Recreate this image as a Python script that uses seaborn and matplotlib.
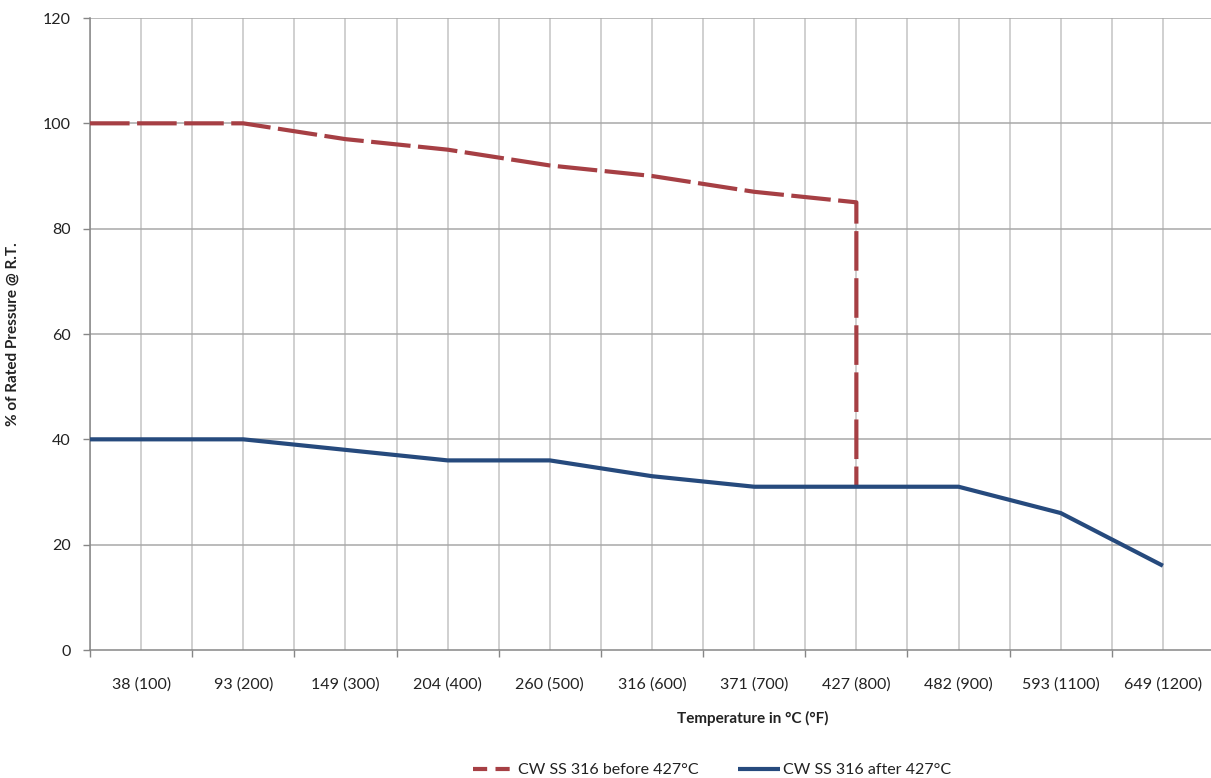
import matplotlib
matplotlib.use("Agg")
import matplotlib.pyplot as plt
import seaborn as sns
import pandas as pd
import numpy as np

categories = ["38 (100)", "93 (200)", "149 (300)", "204 (400)", "260 (500)", "316 (600)",
              "371 (700)", "427 (800)", "482 (900)", "593 (1100)", "649 (1200)"]

before_x = [-0.5, 1, 2, 3, 4, 5, 6, 7, 7]
before_y = [100, 100, 97, 95, 92, 90, 87, 85, 31]
after_x = [-0.5, 1, 2, 3, 4, 5, 6, 7, 8, 9, 10]
after_y = [40, 40, 38, 36, 36, 33, 31, 31, 31, 26, 16]

yticks = [0, 20, 40, 60, 80, 100, 120]

sns.set_theme(style="white")
plt.rcParams['font.family'] = ['Lato', 'DejaVu Sans']

fig = plt.figure(figsize=(12.11, 7.78), dpi=100)
ax = fig.add_axes([90/1211, 128/778, 1124/1211, 632/778])

red = "#A63F44"
blue = "#264A7D"

df_b = pd.DataFrame({"x": before_x, "y": before_y})
df_a = pd.DataFrame({"x": after_x, "y": after_y})

sns.lineplot(data=df_b, x="x", y="y", ax=ax, sort=False, estimator=None, color=red,
             linewidth=3.0, label="CW SS 316 before 427°C", zorder=3)
sns.lineplot(data=df_a, x="x", y="y", ax=ax, sort=False, estimator=None, color=blue,
             linewidth=3.0, label="CW SS 316 after 427°C", zorder=3)
lb = ax.get_lines()[0]
lb.set_dashes((9.5, 1.8))
lb.set_dash_capstyle("butt")
ax.get_lines()[1].set_solid_capstyle("butt")

n = len(categories)
ax.set_xlim(-0.5, n - 0.5)
ax.set_ylim(0, 120)
ax.set_xticks(range(n))
ax.set_xticklabels(categories)
ax.set_xticks(np.arange(-0.5, n, 1.0), minor=True)
ax.set_yticks(yticks)

ax.tick_params(axis="x", which="major", length=0, pad=20, labelsize=11.5, labelcolor="#222222")
ax.tick_params(axis="x", which="minor", length=5, width=1, color="#868686", direction="out", bottom=True)
ax.tick_params(axis="y", length=5, width=1, color="#868686", direction="out", left=True, pad=9,
               labelsize=11.5, labelcolor="#222222")

# gridlines
for xv in np.arange(-0.5, n, 0.5):
    ax.axvline(xv, color="#c4c4c4", linewidth=1.1, zorder=1)
for yv in yticks[1:]:
    ax.axhline(yv, color="#a8a8a8", linewidth=1.1, zorder=1)

for side in ["top", "right"]:
    ax.spines[side].set_visible(False)
for side in ["left", "bottom"]:
    ax.spines[side].set_color("#868686")
    ax.spines[side].set_linewidth(1.1)

ax.set_xlabel("Temperature in °C (°F)", fontsize=11, fontweight="bold", color="#222222")
ax.xaxis.set_label_coords((753 - 90) / 1124, -0.097)
ax.set_ylabel("% of Rated Pressure @ R.T.", fontsize=11, fontweight="bold", color="#222222")
ax.yaxis.set_label_coords(-0.063, 0.5)

ax.get_legend().remove()
handles, labels = ax.get_legend_handles_labels()
leg = fig.legend(handles, labels, loc="center", bbox_to_anchor=(712 / 1211, 1 - 770 / 778),
                 ncol=2, frameon=False, fontsize=11.5, handlelength=2.6, handletextpad=0.2,
                 columnspacing=2.5)
for t in leg.get_texts():
    t.set_color("#222222")
leg.get_lines()[0].set_dashes((3.4, 2.0))

fig.savefig("out.png", dpi=100)
